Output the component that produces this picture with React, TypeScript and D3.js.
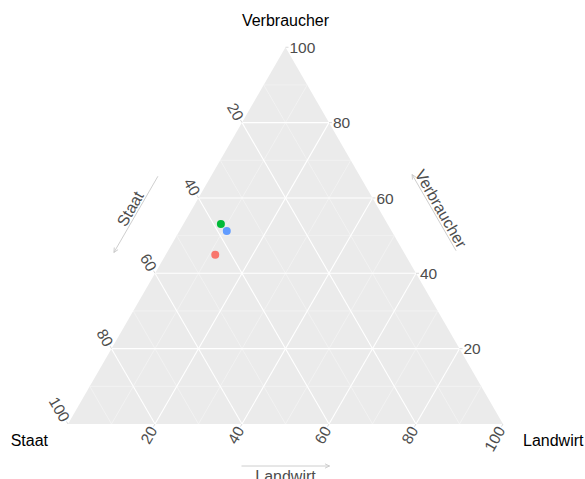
import React from "react";
import * as d3 from "d3";

const axisTitles = { top: "Verbraucher", left: "Staat", right: "Landwirt" };
const seriesColors = ["#F8766D", "#00BA38", "#619CFF"];
const verbraucher = [44.9, 53.1, 51.2];
const staat = [43.7, 38.3, 37.9];
const landwirt = [11.4, 8.6, 10.9];
const majorTicks = [20, 40, 60, 80, 100];
const majorGrid = [20, 40, 60, 80];
const minorGrid = [10, 30, 50, 70, 90];

const W = 585;
const H = 479;
const x0 = 68;
const x1 = 503;
const yB = 424;
const side = x1 - x0;
const yT = yB - side * Math.sqrt(3) / 2;

const xs = d3.scaleLinear().domain([0, 100]).range([x0, x1]);
const ys = d3.scaleLinear().domain([0, 100]).range([yB, yT]);

// ternary projection: T = Verbraucher (top), L = Staat (left), R = Landwirt (right)
function proj(T: number, L: number, R: number): [number, number] {
  const s = T + L + R;
  const t = (T / s) * 100;
  const r = (R / s) * 100;
  return [xs(r + t / 2), ys(t)];
}

const FONT = "'Liberation Sans', Arial, Helvetica, sans-serif";
const tickColor = "#4D4D4D";

export default function App() {
  const A = proj(100, 0, 0);
  const Lv = proj(0, 100, 0);
  const Rv = proj(0, 0, 100);
  const tri = `M${A[0]},${A[1]}L${Lv[0]},${Lv[1]}L${Rv[0]},${Rv[1]}Z`;

  const gridLines = (vals: number[]) => {
    const out: [number, number, number, number][] = [];
    vals.forEach((v) => {
      // T = v
      const a1 = proj(v, 100 - v, 0), a2 = proj(v, 0, 100 - v);
      out.push([a1[0], a1[1], a2[0], a2[1]]);
      // L = v
      const b1 = proj(100 - v, v, 0), b2 = proj(0, v, 100 - v);
      out.push([b1[0], b1[1], b2[0], b2[1]]);
      // R = v
      const c1 = proj(0, 100 - v, v), c2 = proj(100 - v, 0, v);
      out.push([c1[0], c1[1], c2[0], c2[1]]);
    });
    return out;
  };

  const s60 = Math.sqrt(3) / 2;
  const lineLine = (p: [number, number], d: [number, number], len: number) => [p[0], p[1], p[0] + d[0] * len, p[1] + d[1] * len];

  // edge midpoints and outward normals
  const midLeft: [number, number] = [(A[0] + Lv[0]) / 2, (A[1] + Lv[1]) / 2];
  const midRight: [number, number] = [(A[0] + Rv[0]) / 2, (A[1] + Rv[1]) / 2];
  const midBottom: [number, number] = [(Lv[0] + Rv[0]) / 2, yB];
  const nLeft: [number, number] = [-s60, -0.5];
  const nRight: [number, number] = [s60, -0.5];
  const arrowLen = 88;
  const arrowOffSide = 46;
  const arrowOffBottom = 42;
  const labelOff = 54;

  // Staat arrow: pointing down-left along left edge direction
  const uLeftDown: [number, number] = [-0.5, s60];
  const staatC: [number, number] = [midLeft[0] + nLeft[0] * arrowOffSide + uLeftDown[0] * 2, midLeft[1] + nLeft[1] * arrowOffSide + uLeftDown[1] * 2];
  const staatStart: [number, number] = [staatC[0] - uLeftDown[0] * arrowLen / 2, staatC[1] - uLeftDown[1] * arrowLen / 2];
  const staatEnd: [number, number] = [staatC[0] + uLeftDown[0] * arrowLen / 2, staatC[1] + uLeftDown[1] * arrowLen / 2];
  // Verbraucher arrow: pointing up-left along right edge
  const uRightUp: [number, number] = [-0.5, -s60];
  const vC: [number, number] = [midRight[0] + nRight[0] * arrowOffSide, midRight[1] + nRight[1] * arrowOffSide];
  const vStart: [number, number] = [vC[0] - uRightUp[0] * arrowLen / 2, vC[1] - uRightUp[1] * arrowLen / 2];
  const vEnd: [number, number] = [vC[0] + uRightUp[0] * arrowLen / 2, vC[1] + uRightUp[1] * arrowLen / 2];
  // Landwirt arrow: pointing right
  const lStart: [number, number] = [midBottom[0] - arrowLen / 2, yB + arrowOffBottom];
  const lEnd: [number, number] = [midBottom[0] + arrowLen / 2, yB + arrowOffBottom];

  const head = (s: [number, number], e: [number, number]) => {
    const ang = Math.atan2(e[1] - s[1], e[0] - s[0]);
    const hl = 5, ha = Math.PI / 7;
    const p1 = [e[0] - hl * Math.cos(ang - ha), e[1] - hl * Math.sin(ang - ha)];
    const p2 = [e[0] - hl * Math.cos(ang + ha), e[1] - hl * Math.sin(ang + ha)];
    return `M${p1[0]},${p1[1]}L${e[0]},${e[1]}L${p2[0]},${p2[1]}`;
  };

  const arrowColor = "#C8C8C8";
  const tickOff = 4;

  return (
    <svg width={W} height={H} style={{ position: "absolute", left: 0, top: 0, background: "#fff" }} fontFamily={FONT}>
      <path d={tri} fill="#EBEBEB" />
      {gridLines(minorGrid).map((l, i) => (
        <line key={"mi" + i} x1={l[0]} y1={l[1]} x2={l[2]} y2={l[3]} stroke="#F7F7F7" strokeWidth={0.6} />
      ))}
      {gridLines(majorGrid).map((l, i) => (
        <line key={"ma" + i} x1={l[0]} y1={l[1]} x2={l[2]} y2={l[3]} stroke="#FFFFFF" strokeWidth={1.1} />
      ))}

      {/* ticks */}
      {majorTicks.map((v) => {
        const pr = proj(v, 0, 100 - v);
        const pl = proj(100 - v, v, 0);
        const pb = proj(0, 100 - v, v);
        const a = lineLine(pr, [1, 0], 3);
        const b = lineLine(pl, [-0.5, -s60], 3);
        const c = lineLine(pb, [-0.5, s60], 3);
        return (
          <g key={"tk" + v} stroke="#D0D0D0" strokeWidth={0.8}>
            <line x1={a[0]} y1={a[1]} x2={a[2]} y2={a[3]} />
            <line x1={b[0]} y1={b[1]} x2={b[2]} y2={b[3]} />
            <line x1={c[0]} y1={c[1]} x2={c[2]} y2={c[3]} />
          </g>
        );
      })}

      {/* tick labels */}
      {majorTicks.map((v) => {
        const pr = proj(v, 0, 100 - v);
        return (
          <text key={"tr" + v} x={pr[0] + tickOff} y={pr[1]} dy="0.36em" fontSize={15.5} fill={tickColor} textAnchor="start">
            {v}
          </text>
        );
      })}
      {majorTicks.map((v) => {
        const pl = proj(100 - v, v, 0);
        const q = [pl[0] - 0.5 * tickOff, pl[1] - s60 * tickOff];
        return (
          <text key={"tl" + v} transform={`translate(${q[0]},${q[1]}) rotate(60)`} dy="0.36em" fontSize={15.5} fill={tickColor} textAnchor="end">
            {v}
          </text>
        );
      })}
      {majorTicks.map((v) => {
        const pb = proj(0, 100 - v, v);
        const q = [pb[0] - 0.5 * tickOff, pb[1] + s60 * tickOff];
        return (
          <text key={"tb" + v} transform={`translate(${q[0]},${q[1]}) rotate(-60)`} dy="0.36em" fontSize={15.5} fill={tickColor} textAnchor="end">
            {v}
          </text>
        );
      })}

      {/* arrows */}
      <g stroke={arrowColor} strokeWidth={0.9} fill="none">
        <line x1={staatStart[0]} y1={staatStart[1]} x2={staatEnd[0]} y2={staatEnd[1]} />
        <path d={head(staatStart, staatEnd)} />
        <line x1={vStart[0]} y1={vStart[1]} x2={vEnd[0]} y2={vEnd[1]} />
        <path d={head(vStart, vEnd)} />
        <line x1={lStart[0]} y1={lStart[1]} x2={lEnd[0]} y2={lEnd[1]} />
        <path d={head(lStart, lEnd)} />
      </g>
      <text
        transform={`translate(${midLeft[0] + nLeft[0] * labelOff},${midLeft[1] + nLeft[1] * labelOff}) rotate(-60)`}
        dy="0.36em" fontSize={16} fill={tickColor} textAnchor="middle">
        {axisTitles.left}
      </text>
      <text
        transform={`translate(${midRight[0] + nRight[0] * labelOff},${midRight[1] + nRight[1] * labelOff}) rotate(60)`}
        dy="0.36em" fontSize={16} fill={tickColor} textAnchor="middle">
        {axisTitles.top}
      </text>
      <text x={midBottom[0]} y={yB + 52.5} dy="0.36em" fontSize={16} fill={tickColor} textAnchor="middle">
        {axisTitles.right}
      </text>

      {/* vertex titles */}
      <text x={A[0]} y={26} fontSize={16} fill="#000" textAnchor="middle">{axisTitles.top}</text>
      <text x={Lv[0] - 20} y={445.5} fontSize={16} fill="#000" textAnchor="end">{axisTitles.left}</text>
      <text x={Rv[0] + 20} y={445.5} fontSize={16} fill="#000" textAnchor="start">{axisTitles.right}</text>

      {/* points */}
      {verbraucher.map((t, i) => {
        const p = proj(t, staat[i], landwirt[i]);
        return <circle key={"pt" + i} cx={p[0]} cy={p[1]} r={4} fill={seriesColors[i]} />;
      })}
    </svg>
  );
}
